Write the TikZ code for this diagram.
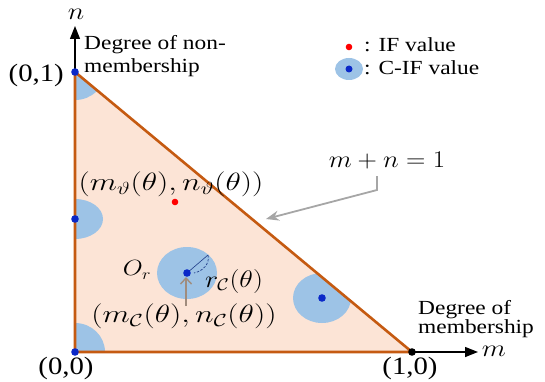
\RequirePackage{fix-cm}
\documentclass[tikz,border=0pt]{standalone}
\usepackage{fontspec}
\setmainfont{Liberation Serif}
\usetikzlibrary{arrows.meta}
\definecolor{peach}{HTML}{FCE4D6}
\definecolor{edgec}{HTML}{C55A11}
\definecolor{cblue}{HTML}{9DC3E6}
\definecolor{dblue}{HTML}{0A28C8}
\definecolor{ptr}{HTML}{A6A6A6}
\definecolor{ptrb}{HTML}{A08C7D}
\definecolor{navy}{HTML}{1F3C88}
\begin{document}
\begin{tikzpicture}[x=1pt,y=-1pt,
  txt/.style={font=\fontsize{20}{19}\selectfont, xscale=1.17, transform shape, inner sep=0pt},
  coordlbl/.style={font=\fontsize{25}{25}\selectfont, xscale=1.15, transform shape, inner sep=0pt},
  mlbl/.style={font=\fontsize{25}{25}\selectfont, xscale=1.27, transform shape, inner sep=0pt},
  axislbl/.style={font=\fontsize{24}{24}\selectfont, xscale=1.17, transform shape, inner sep=0pt},
  axisline/.style={line width=1.4pt, -{Triangle[length=13pt,width=10pt]}},
  bdot/.style={fill=dblue},
  cfill/.style={fill=cblue}]
\useasboundingbox (0,0) rectangle (545,382);
% key points
\coordinate (O) at (75,352);
\coordinate (A) at (412,352);
\coordinate (B) at (75,72);
\coordinate (mtip) at (478,352);
\coordinate (ntip) at (75,26);
\coordinate (L) at (75,219);
\coordinate (ctr) at (187,273);
\coordinate (R) at (322,298);
\coordinate (IF) at (175,202);
\coordinate (rend) at (208,255);
% triangle
\fill[peach] (O) -- (A) -- (B) -- cycle;
\begin{scope}
  \clip (O) -- (A) -- (B) -- cycle;
  \path[cfill] (O) ellipse [x radius=30, y radius=29];
  \path[cfill] (B) ellipse [x radius=30, y radius=28];
  \path[cfill] (L) ellipse [x radius=28, y radius=20];
  \path[cfill] (ctr) ellipse [x radius=30, y radius=26];
  \path[cfill] (R) ellipse [x radius=29, y radius=25];
\end{scope}
\draw[edgec, line width=2.6pt, line join=round] (O) -- (A) -- (B) -- cycle;
% axes
\draw[axisline] (A) -- (mtip);
\draw[axisline] (B) -- (ntip);
% radius and arc
\draw[navy, line width=0.6pt] (ctr) -- (rend);
\draw[navy, line width=0.7pt, dash pattern=on 2.5pt off 1.5pt] (rend) .. controls (210,264) and (203,271) .. (194,273);
% pointer to centre
\draw[ptrb, line width=1.4pt, -{Straight Barb[length=6pt,width=11pt]}] (186,306) -- (186,277);
% dots
\fill[bdot] (O) circle (3.8);
\fill[bdot] (B) circle (3.8);
\fill[bdot] (L) circle (3.8);
\fill[bdot] (ctr) circle (3.8);
\fill[bdot] (R) circle (3.8);
\fill[black] (A) circle (3.8);
\fill[red] (IF) circle (3.3);
% legend
\coordinate (lg1) at (349,47);
\coordinate (lg2) at (349,69);
\fill[red] (lg1) circle (3.3);
\path[cfill] (lg2) ellipse [x radius=14, y radius=11];
\fill[bdot] (lg2) circle (3.5);
\node[txt, anchor=base west] (ifv) at (364,52) {: IF value};
\node[txt, anchor=base west] (cifv) at (364,75) {: C-IF value};
% axis texts
\node[txt, anchor=west, align=left, font=\fontsize{20}{23}\selectfont] (nonmem) at (84,56) {Degree of non-\\membership};
\node[txt, anchor=west, align=left, font=\fontsize{20}{18}\selectfont] (mem) at (418,319) {Degree of\\membership};
\node[axislbl] (nlbl) at (76,14) {$n$};
\node[axislbl] (mlbl) at (494,351) {$m$};
\node[coordlbl, anchor=east] (p01) at (64,75) {(0,1)};
\node[coordlbl] (p00) at (66,368) {(0,0)};
\node[coordlbl] (p10) at (410,368) {(1,0)};
% math labels
\node[mlbl, font=\fontsize{24}{24}\selectfont, xscale=0.88] (mn) at (387,161) {$m+n=1$};
\node[mlbl] (mth) at (171,184) {$(m_{\vartheta}(\theta),n_{\vartheta}(\theta))$};
\node[mlbl] (mc) at (184,316) {$(m_{\mathcal{C}}(\theta),n_{\mathcal{C}}(\theta))$};
\node[mlbl, font=\fontsize{22}{22}\selectfont, xscale=0.92] (orl) at (137,270) {$O_r$};
\node[mlbl, font=\fontsize{24}{24}\selectfont, xscale=0.92] (rc) at (234,281) {$r_{\mathcal{C}}(\theta)$};
% pointer to m+n=1
\coordinate (p1) at (377,176);
\coordinate (p2) at (377,190);
\coordinate (ptip) at (266,219);
\draw[ptr, line width=1.8pt, -{Stealth[length=13pt,width=10pt]}] (p1) -- (p2) -- (ptip);
\end{tikzpicture}
\end{document}
